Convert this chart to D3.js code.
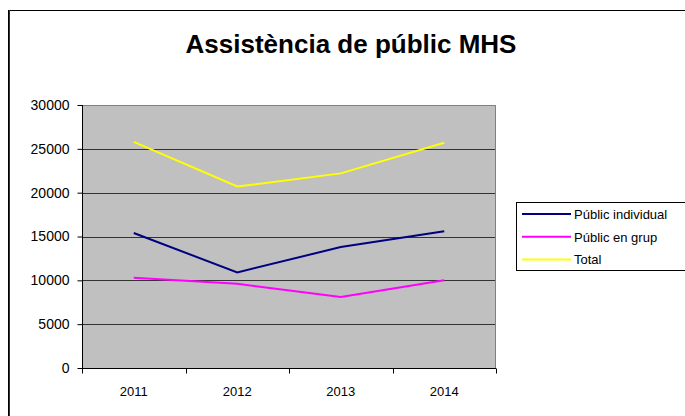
<!DOCTYPE html>
<html>
<head>
<meta charset="utf-8">
<script src="https://cdn.jsdelivr.net/npm/d3@7"></script>
<style>
  html, body { margin: 0; padding: 0; background: #fff; }
  svg { display: block; font-family: "Liberation Sans", Arial, sans-serif; }
</style>
</head>
<body>
<svg id="chart" width="685" height="416"></svg>
<script>
// Dades
const years = ['2011', '2012', '2013', '2014'];
const individual = [15400, 10900, 13800, 15600];
const grup = [10300, 9600, 8100, 10000];
const total = [25800, 20700, 22200, 25700];
const yTicks = [0, 5000, 10000, 15000, 20000, 25000, 30000];

const series = [
  { name: 'Públic individual', values: individual, color: '#000080' },
  { name: 'Públic en grup', values: grup, color: '#FF00FF' },
  { name: 'Total', values: total, color: '#FFFF00' }
];

const svg = d3.select('#chart');

// marc exterior
svg.append('rect')
  .attr('x', 8.5).attr('y', 10.5)
  .attr('width', 700).attr('height', 420)
  .attr('fill', '#fff').attr('stroke', '#000').attr('stroke-width', 1);
svg.append('line')
  .attr('x1', 9.5).attr('x2', 9.5).attr('y1', 10).attr('y2', 416)
  .attr('stroke', '#333').attr('stroke-width', 1);

// títol
svg.append('text')
  .attr('x', 351).attr('y', 53)
  .attr('text-anchor', 'middle')
  .attr('font-size', 26).attr('font-weight', 'bold')
  .text('Assistència de públic MHS');

const L = 82, R = 496, T = 105, B = 368;

const x = d3.scaleBand().domain(years).range([L, R]);
const y = d3.scaleLinear().domain([0, 30000]).range([B, T]);

// fons
svg.append('rect')
  .attr('x', L).attr('y', T).attr('width', R - L).attr('height', B - T)
  .attr('fill', '#C0C0C0');

// línies de graella
svg.append('g').selectAll('line')
  .data(yTicks.filter(d => d > 0 && d < 30000))
  .enter().append('line')
  .attr('x1', L).attr('x2', R)
  .attr('y1', d => Math.round(y(d)) + 0.5).attr('y2', d => Math.round(y(d)) + 0.5)
  .attr('stroke', '#333').attr('stroke-width', 1);

// vora superior i dreta
svg.append('path')
  .attr('d', `M${L},${T + 0.5}H${R - 0.5}V${B}`)
  .attr('fill', 'none').attr('stroke', '#808080').attr('stroke-width', 1);

// eix Y
const yAxis = d3.axisLeft(y).tickValues(yTicks).tickSize(5).tickPadding(8).tickFormat(d3.format('d'));
const gy = svg.append('g').attr('transform', `translate(${L + 0.5},0)`).call(yAxis);
gy.selectAll('text').attr('font-size', 14).attr('fill', '#000').attr('font-family', '"Liberation Sans", Arial, sans-serif');
gy.selectAll('line, path').attr('stroke', '#000');
gy.select('.domain').attr('d', `M0,${T}V${B}`);

// eix X
const gx = svg.append('g').attr('transform', `translate(0,${B + 0.5})`);
gx.append('line').attr('x1', L).attr('x2', R).attr('stroke', '#000');
gx.selectAll('.tk')
  .data(years.concat(['end']))
  .enter().append('line')
  .attr('x1', (d, i) => Math.round(i < years.length ? x(d) : R) + 0.5)
  .attr('x2', (d, i) => Math.round(i < years.length ? x(d) : R) + 0.5)
  .attr('y1', 0).attr('y2', 5)
  .attr('stroke', '#000');
gx.selectAll('text')
  .data(years).enter().append('text')
  .attr('x', d => x(d) + x.bandwidth() / 2)
  .attr('y', 27)
  .attr('text-anchor', 'middle')
  .attr('font-size', 13)
  .text(d => d);

// línies de dades
const line = d3.line()
  .x((d, i) => x(years[i]) + x.bandwidth() / 2)
  .y(d => y(d));

svg.append('g').selectAll('path')
  .data(series).enter().append('path')
  .attr('d', d => line(d.values))
  .attr('fill', 'none')
  .attr('stroke', d => d.color)
  .attr('stroke-width', 2);

// llegenda
const lg = svg.append('g');
lg.append('rect')
  .attr('x', 516.5).attr('y', 202.5).attr('width', 170).attr('height', 68)
  .attr('fill', '#fff').attr('stroke', '#000');
const item = lg.selectAll('.it').data(series).enter().append('g')
  .attr('transform', (d, i) => `translate(0,${214 + i * 22.7})`);
item.append('line')
  .attr('x1', 522).attr('x2', 571).attr('y1', 0).attr('y2', 0)
  .attr('stroke', d => d.color).attr('stroke-width', 2);
item.append('text')
  .attr('x', 574).attr('y', 5)
  .attr('font-size', 13)
  .text(d => d.name);
</script>
</body>
</html>
